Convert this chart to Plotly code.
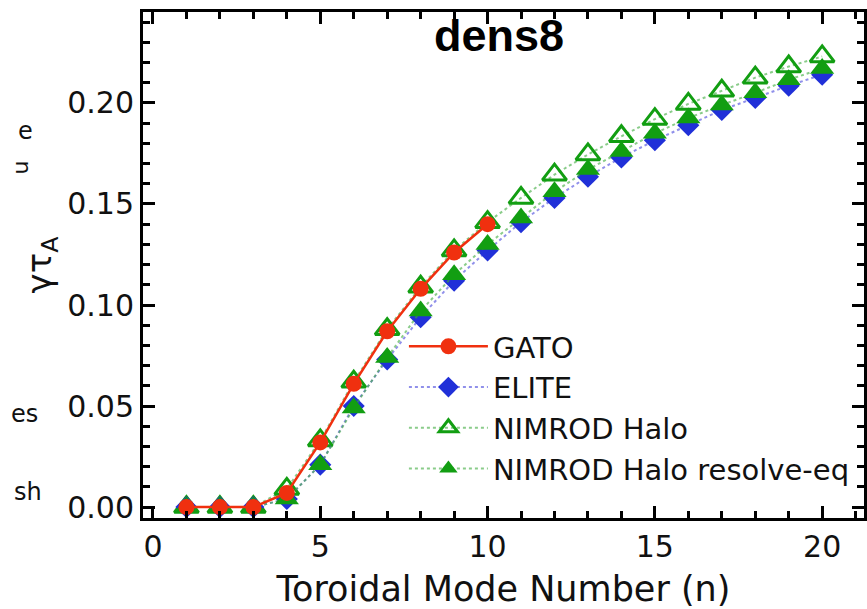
import plotly.graph_objects as go

# ---- data ----
n_gato = [1, 2, 3, 4, 5, 6, 7, 8, 9, 10]
gato = [0.0, 0.0, 0.0, 0.007, 0.032, 0.061, 0.087, 0.108, 0.126, 0.140]

n_all = list(range(1, 21))
elite = [0.0, 0.0, 0.0, 0.004, 0.021, 0.050, 0.073, 0.094, 0.112, 0.127,
         0.141, 0.153, 0.1635, 0.173, 0.1815, 0.189, 0.1965, 0.2025, 0.2085, 0.214]
nimrod_halo = [0.0, 0.0, 0.0, 0.009, 0.033, 0.062, 0.088, 0.109, 0.127, 0.141,
               0.153, 0.1645, 0.1745, 0.1835, 0.192, 0.1995, 0.206, 0.2125, 0.218, 0.223]
nimrod_resolve = [0.0, 0.0, 0.0, 0.004, 0.021, 0.049, 0.074, 0.097, 0.115, 0.130,
                  0.143, 0.156, 0.167, 0.176, 0.185, 0.1925, 0.199, 0.205, 0.2115, 0.217]

W, H = 867, 609
L, R, T, B = 143, 0, 12, 91
PW, PH = W - L - R, H - T - B

def px(x):
    return (x - L) / PW

def py(y):
    return (H - B - y) / PH

RED = "#f0300f"
BLUE = "#2030d8"
GREEN = "#129e12"
FONT = "DejaVu Sans"

fig = go.Figure()

fig.add_trace(go.Scatter(
    x=n_all, y=nimrod_halo, name="NIMROD Halo", mode="lines+markers",
    line=dict(color="rgba(60,170,60,0.6)", width=2, dash="dot"),
    marker=dict(symbol="triangle-up-open", size=21, color=GREEN, line=dict(width=3, color=GREEN)),
    legendrank=3))
fig.add_trace(go.Scatter(
    x=n_all, y=elite, name="ELITE", mode="lines+markers",
    line=dict(color="rgba(70,70,220,0.6)", width=2, dash="dot"),
    marker=dict(symbol="diamond", size=17, color=BLUE),
    legendrank=2))
fig.add_trace(go.Scatter(
    x=n_all, y=nimrod_resolve, name="NIMROD Halo resolve-eq", mode="lines+markers",
    line=dict(color="rgba(60,170,60,0.6)", width=2, dash="dot"),
    marker=dict(symbol="triangle-up", size=21, color=GREEN),
    legendrank=4))
fig.add_trace(go.Scatter(
    x=n_gato, y=gato, name="GATO", mode="lines+markers",
    line=dict(color=RED, width=2.5),
    marker=dict(symbol="circle", size=16, color=RED),
    legendrank=1))

axis_common = dict(
    showline=True, linewidth=3, linecolor="black", mirror="allticks",
    ticks="inside", ticklen=12, tickwidth=3, tickcolor="black",
    showgrid=False, zeroline=False,
    tickfont=dict(family=FONT, size=30, color="#111"),
)

fig.update_xaxes(
    range=[-0.298, 21.25], tick0=0, dtick=5,
    minor=dict(dtick=1, ticks="inside", ticklen=7, tickwidth=3, tickcolor="black", showgrid=False),
    title=dict(text="Toroidal Mode Number (n)", font=dict(family=FONT, size=35, color="#111"), standoff=16),
    **axis_common)
fig.update_yaxes(
    range=[-0.0054, 0.245], tick0=0, dtick=0.05, tickformat=".2f",
    minor=dict(dtick=0.01, ticks="inside", ticklen=7, tickwidth=3, tickcolor="black", showgrid=False),
    title=dict(text="γτ<sub>A</sub>", font=dict(family=FONT, size=34, color="#111"), standoff=6),
    **axis_common)

annotations = [
    dict(text="<b>dens8</b>", x=px(500), y=py(8), xref="paper", yref="paper",
         xanchor="center", yanchor="top", showarrow=False,
         font=dict(family="Liberation Sans", size=45, color="black")),
    dict(text="e", x=px(25), y=py(131), xref="paper", yref="paper",
         xanchor="center", yanchor="middle", showarrow=False,
         font=dict(family=FONT, size=24, color="#111")),
    dict(text="u", x=px(19), y=py(168), xref="paper", yref="paper",
         xanchor="center", yanchor="middle", showarrow=False, textangle=-90,
         font=dict(family=FONT, size=22, color="#111")),
    dict(text="es", x=px(24), y=py(414), xref="paper", yref="paper",
         xanchor="center", yanchor="middle", showarrow=False,
         font=dict(family=FONT, size=24, color="#111")),
    dict(text="sh", x=px(28), y=py(492), xref="paper", yref="paper",
         xanchor="center", yanchor="middle", showarrow=False,
         font=dict(family=FONT, size=24, color="#111")),
]

fig.update_layout(
    width=W, height=H,
    margin=dict(l=L, r=R, t=T, b=B, pad=0),
    paper_bgcolor="white", plot_bgcolor="white",
    showlegend=True,
    legend=dict(x=px(405), y=py(321), xanchor="left", yanchor="top",
                bgcolor="rgba(0,0,0,0)", borderwidth=0,
                font=dict(family=FONT, size=29, color="#111"),
                tracegroupgap=0, itemwidth=79),
    annotations=annotations,
)

fig.write_html("out.html")
